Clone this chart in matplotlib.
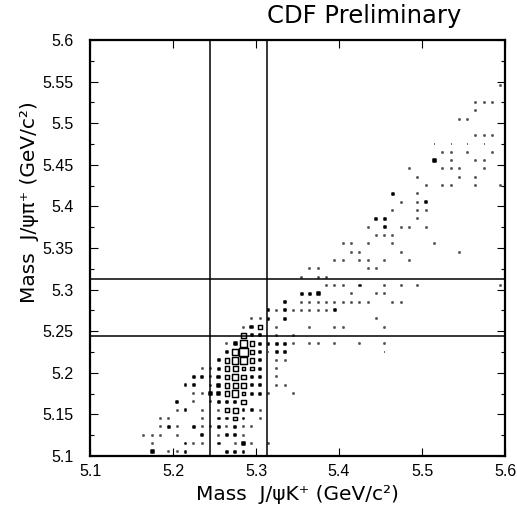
import numpy as np
import matplotlib
matplotlib.use("Agg")
import matplotlib.pyplot as plt
from matplotlib.patches import Rectangle
from matplotlib.collections import PatchCollection
from matplotlib.ticker import MultipleLocator, FuncFormatter

# 2D histogram: 50 x 50 bins of 10 MeV between 5.1 and 5.6 GeV/c^2
bin_edges = np.linspace(5.1, 5.6, 51)
bin_width = bin_edges[1] - bin_edges[0]
bin_centers = 0.5 * (bin_edges[:-1] + bin_edges[1:])

# row index = J/psi pi bin, entries = J/psi K bins filled in that row
k_bins_by_row = [
    [7, 9, 10, 11, 16, 17, 18],
    [7, 11, 12, 13, 15, 17, 18, 19, 21],
    [6, 7, 8, 10, 13, 15, 16, 17, 18],
    [8, 9, 10, 12, 13, 14, 15, 16, 17, 18, 19],
    [8, 9, 13, 15, 16, 17, 18, 20],
    [10, 11, 13, 15, 16, 17, 18, 19, 20],
    [10, 12, 14, 15, 16, 17, 18],
    [12, 13, 14, 15, 16, 17, 18, 19, 20, 21, 24],
    [11, 12, 14, 15, 16, 17, 18, 19, 20, 22, 23],
    [12, 13, 14, 15, 16, 17, 18, 19, 20, 22],
    [13, 14, 15, 16, 17, 18, 19, 20, 22],
    [15, 16, 17, 18, 19, 20, 22, 23],
    [16, 17, 18, 19, 20, 21, 22, 23, 35],
    [16, 17, 18, 19, 20, 21, 22, 23, 24, 26, 27, 29, 32, 35],
    [18, 19, 20, 22, 24],
    [18, 19, 20, 22, 26, 29, 30, 35],
    [19, 20, 21, 23, 34],
    [21, 22, 23, 24, 25, 26, 27, 28, 29],
    [23, 25, 26, 27, 28, 29, 30, 31, 32, 33, 36, 37],
    [25, 26, 27, 31, 34, 35],
    [28, 29, 30, 32, 35, 37, 39, 49],
    [25, 27, 28],
    [26, 27, 33, 34],
    [29, 30, 32, 33, 35, 38],
    [31, 32, 37, 44],
    [30, 31, 33, 36, 41],
    [34, 35, 36],
    [33, 35, 37, 38, 40],
    [34, 35, 39],
    [36, 39, 40],
    [37, 39, 40],
    [36, 39],
    [40, 42, 43, 46, 49],
    [39, 44, 46],
    [38, 42, 43, 44, 47],
    [41, 43, 46, 47],
    [42, 43, 45, 48],
    [41, 43, 45, 47],
    [46, 47, 48],
    [],
    [44, 45],
    [46],
    [46, 47, 48],
    [],
    [49],
]
entries_by_row = [
    [3, 1, 1, 2, 2, 2, 2],
    [1, 2, 1, 1, 2, 1, 3, 1, 1],
    [1, 1, 1, 1, 2, 1, 2, 2, 1],
    [1, 2, 1, 2, 1, 1, 2, 1, 2, 1, 1],
    [1, 1, 1, 2, 2, 4, 2, 1],
    [1, 2, 1, 1, 4, 5, 2, 2, 1],
    [2, 1, 1, 2, 2, 2, 5],
    [1, 1, 3, 3, 5, 7, 4, 2, 2, 1, 1],
    [2, 2, 1, 3, 5, 5, 5, 2, 2, 1, 1],
    [2, 2, 1, 3, 5, 7, 5, 2, 2, 1],
    [1, 1, 2, 5, 5, 4, 4, 2, 1],
    [2, 5, 7, 7, 5, 2, 1, 1],
    [3, 6, 9, 5, 2, 1, 2, 2, 1],
    [1, 3, 8, 5, 2, 2, 2, 2, 1, 1, 1, 1, 1, 1],
    [5, 2, 2, 1, 1],
    [1, 3, 4, 1, 1, 1, 1, 1],
    [1, 1, 2, 2, 1],
    [2, 1, 2, 1, 1, 1, 1, 1, 2],
    [2, 1, 1, 1, 1, 1, 1, 1, 1, 1, 1, 1],
    [2, 2, 3, 1, 1, 1],
    [1, 1, 1, 2, 1, 1, 1, 1],
    [1, 1, 1],
    [1, 1, 1, 1],
    [1, 1, 1, 1, 1, 1],
    [1, 1, 1, 1],
    [1, 1, 1, 1, 1],
    [1, 1, 1],
    [1, 2, 1, 1, 1],
    [2, 2, 1],
    [1, 1, 1],
    [1, 1, 2],
    [2, 1],
    [1, 1, 1, 1, 1],
    [1, 1, 1],
    [1, 1, 1, 1, 1],
    [3, 1, 1, 1],
    [1, 1, 1, 1],
    [1, 1, 1, 1],
    [1, 1, 1],
    [],
    [1, 1],
    [1],
    [1, 1, 1],
    [],
    [1],
]

# B mass window cuts drawn on both axes
window_lo = 5.244
window_hi = 5.313

fig = plt.figure(figsize=(5.17, 5.08), dpi=100)
ax = fig.add_axes([90 / 517, 52 / 508, 415 / 517, 416 / 508])

cmax = max(max(r) for r in entries_by_row if r)
boxes, faces, edges, widths = [], [], [], []
for row, (ks, ns) in enumerate(zip(k_bins_by_row, entries_by_row)):
    yc = bin_centers[row]
    for k, n in zip(ks, ns):
        s = bin_width * n / cmax
        boxes.append(Rectangle((bin_centers[k] - s / 2, yc - s / 2), s, s))
        if n == 1:
            faces.append("0.3"); edges.append("0.3"); widths.append(1.2)
        elif n <= 3:
            faces.append("black"); edges.append("black"); widths.append(1.1)
        else:
            faces.append("white"); edges.append("black"); widths.append(1.05)
ax.add_collection(PatchCollection(boxes, facecolors=faces, edgecolors=edges,
                                  linewidths=widths))

for v in (window_lo, window_hi):
    ax.axvline(v, color="black", lw=1.1)
    ax.axhline(v, color="black", lw=1.1)

ax.set_xlim(5.1, 5.6)
ax.set_ylim(5.1, 5.6)
ax.xaxis.set_major_locator(MultipleLocator(0.1))
ax.yaxis.set_major_locator(MultipleLocator(0.05))
ax.yaxis.set_minor_locator(MultipleLocator(0.025))
fmt = FuncFormatter(lambda v, p: "%g" % round(v, 3))
ax.xaxis.set_major_formatter(fmt)
ax.yaxis.set_major_formatter(fmt)
ax.tick_params(which="both", direction="in", top=True, right=True, width=0.8,
               labelsize=11.5)
ax.tick_params(axis="x", pad=6)
ax.tick_params(axis="y", pad=12)
ax.tick_params(which="major", length=6)
ax.tick_params(which="minor", length=3)
for lab in ax.get_xticklabels() + ax.get_yticklabels():
    lab.set_family("Liberation Sans")
for sp in ax.spines.values():
    sp.set_linewidth(1.6)

fig.text(364 / 517, 1 - 16 / 508, "CDF Preliminary", fontsize=17.5,
         ha="center", va="center", family="DejaVu Sans")
fig.text(297 / 517, 1 - 494 / 508, "Mass  J/\u03c8K\u207a (GeV/c\u00b2)", fontsize=14.5,
         ha="center", va="center", family="DejaVu Sans")
fig.text(30 / 517, 1 - 202 / 508, "Mass  J/\u03c8\u03c0\u207a (GeV/c\u00b2)", fontsize=14.5,
         ha="center", va="center", rotation=90, family="DejaVu Sans")

fig.savefig("out.png", dpi=100)
